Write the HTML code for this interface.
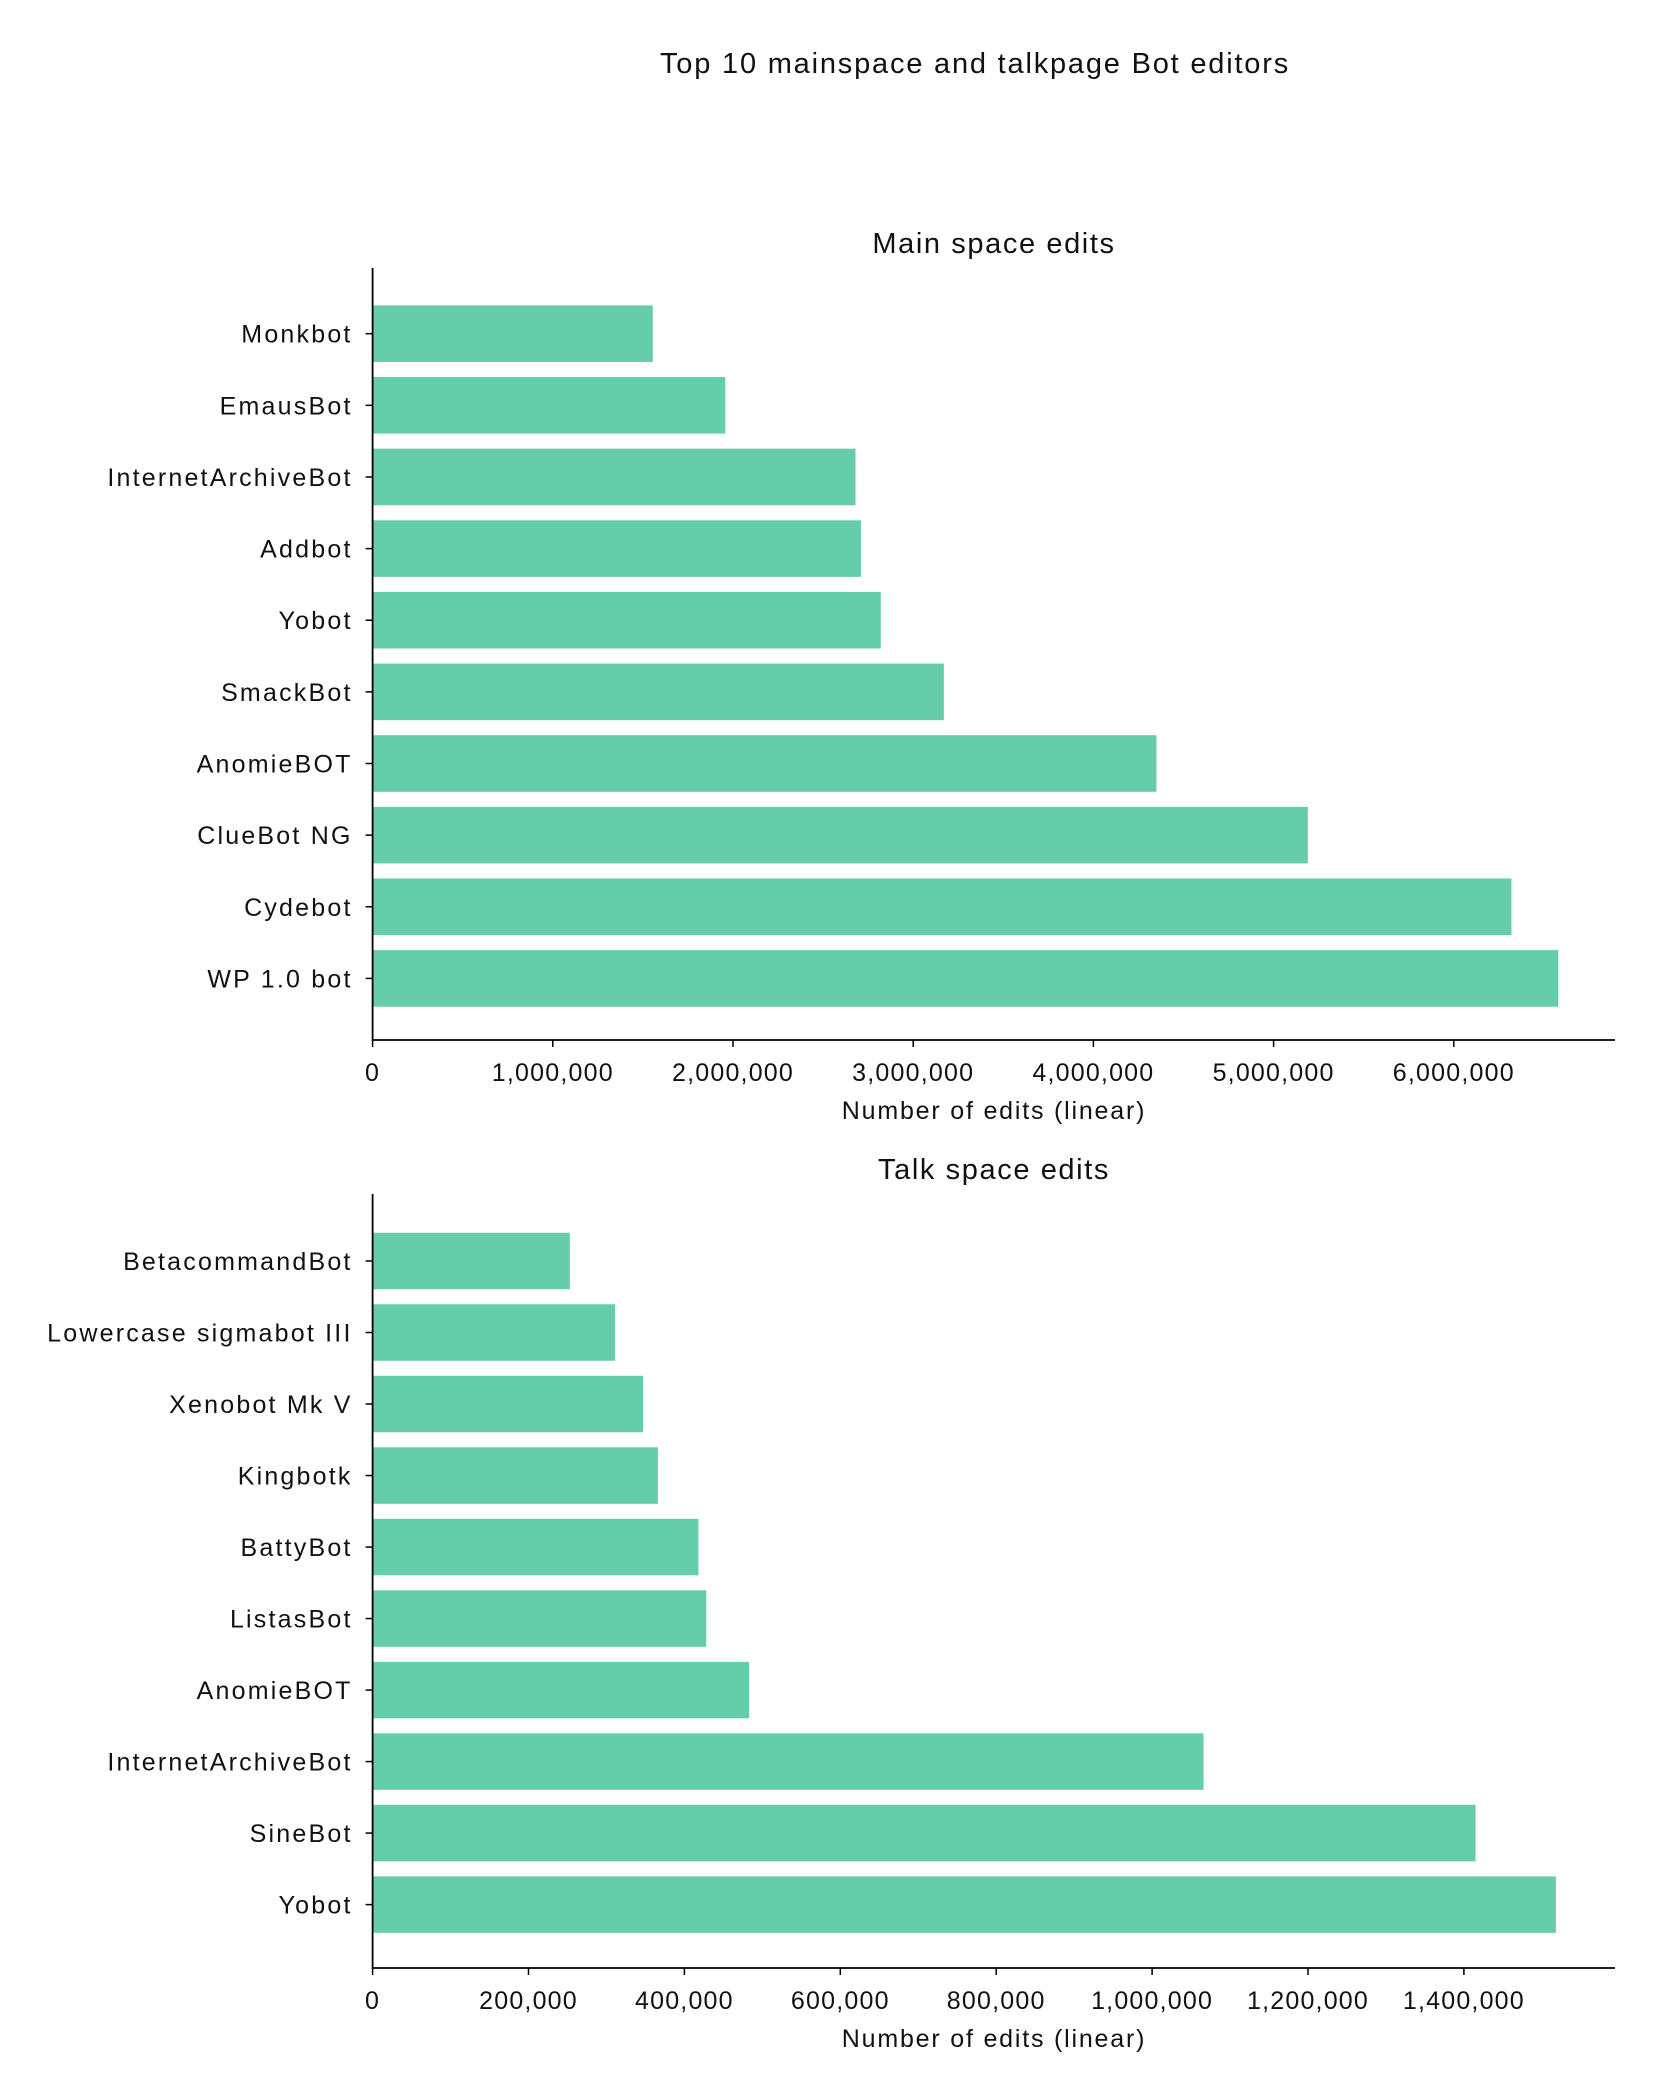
<!DOCTYPE html>
<html><head><meta charset="utf-8"><style>
html,body{margin:0;padding:0;background:#fff}
svg{display:block;font-family:"Liberation Sans",sans-serif}
</style></head><body>
<svg id="chart" width="1662" height="2096" xmlns="http://www.w3.org/2000/svg">
<text x="975" y="73" font-size="29" letter-spacing="1.8" text-anchor="middle" fill="#111">Top 10 mainspace and talkpage Bot editors</text>
</svg>
<script>
const mainCategories = ["Monkbot","EmausBot","InternetArchiveBot","Addbot","Yobot","SmackBot","AnomieBOT","ClueBot NG","Cydebot","WP 1.0 bot"];
const mainValues = [1555000,1957000,2680000,2710000,2820000,3170000,4350000,5190000,6320000,6580000];
const mainTicks = [0,1000000,2000000,3000000,4000000,5000000,6000000];
const talkCategories = ["BetacommandBot","Lowercase sigmabot III","Xenobot Mk V","Kingbotk","BattyBot","ListasBot","AnomieBOT","InternetArchiveBot","SineBot","Yobot"];
const talkValues = [253000,311000,347000,366000,418000,428000,483000,1066000,1415000,1518000];
const talkTicks = [0,200000,400000,600000,800000,1000000,1200000,1400000];

const NS="http://www.w3.org/2000/svg";
const svg=document.getElementById('chart');
function mk(tag,attrs,parent){const e=document.createElementNS(NS,tag);for(const k in attrs)e.setAttribute(k,attrs[k]);(parent||svg).appendChild(e);return e;}
function fmt(v){return v.toLocaleString('en-US');}

function panel(cfg,cats,vals,ticks,prefix){
  const g=mk('g',{});
  
  
  const x0=372.6, xr=1615;
  const sx=v=>x0+v*cfg.pxPerUnit;
  const pitch=(cfg.cLast-cfg.cFirst)/(cats.length-1);
  const sy=i=>cfg.cFirst+i*pitch;
  const bh=pitch*0.79;
  const t=mk('text',{x:994,y:cfg.titleY,'font-size':29,'letter-spacing':1.6,'text-anchor':'middle',fill:'#111'},g);
  t.textContent=cfg.title;
  
  
  cats.forEach((c,i)=>{
    const r=mk('rect',{x:x0,y:sy(i)-bh/2,width:sx(vals[i])-x0,height:bh,fill:'#66cdaa'},g);
    
    
    mk('line',{x1:x0-7,x2:x0,y1:sy(i),y2:sy(i),stroke:'#000','stroke-width':1.5},g);
    const l=mk('text',{x:x0-20,y:sy(i)+9,'font-size':25,'letter-spacing':2.2,'text-anchor':'end',fill:'#111'},g);
    l.textContent=c;
    
    
  });
  const ax=mk('line',{x1:x0,x2:x0,y1:cfg.top,y2:cfg.bottom,stroke:'#000','stroke-width':1.8},g);
  
  
  const bx=mk('line',{x1:x0-0.9,x2:xr,y1:cfg.bottom,y2:cfg.bottom,stroke:'#000','stroke-width':1.8},g);
  
  
  ticks.forEach(v=>{
    mk('line',{x1:sx(v),x2:sx(v),y1:cfg.bottom,y2:cfg.bottom+7,stroke:'#000','stroke-width':1.5},g);
    const tl=mk('text',{x:sx(v),y:cfg.bottom+41,'font-size':25,'letter-spacing':1.2,'text-anchor':'middle',fill:'#111'},g);
    tl.textContent=fmt(v);
    
    
  });
  const xt=mk('text',{x:994,y:cfg.bottom+79,'font-size':25,'letter-spacing':1.8,'text-anchor':'middle',fill:'#111'},g);
  xt.textContent='Number of edits (linear)';
  
  
}
panel({title:'Main space edits',titleY:253,top:268,bottom:1040,cFirst:333.7,cLast:978.4,pxPerUnit:180.2/1e6},mainCategories,mainValues,mainTicks,'main');
panel({title:'Talk space edits',titleY:1179,top:1194,bottom:1968,cFirst:1261,cLast:1904.6,pxPerUnit:155.9/2e5},talkCategories,talkValues,talkTicks,'talk');
</script>
</body></html>
